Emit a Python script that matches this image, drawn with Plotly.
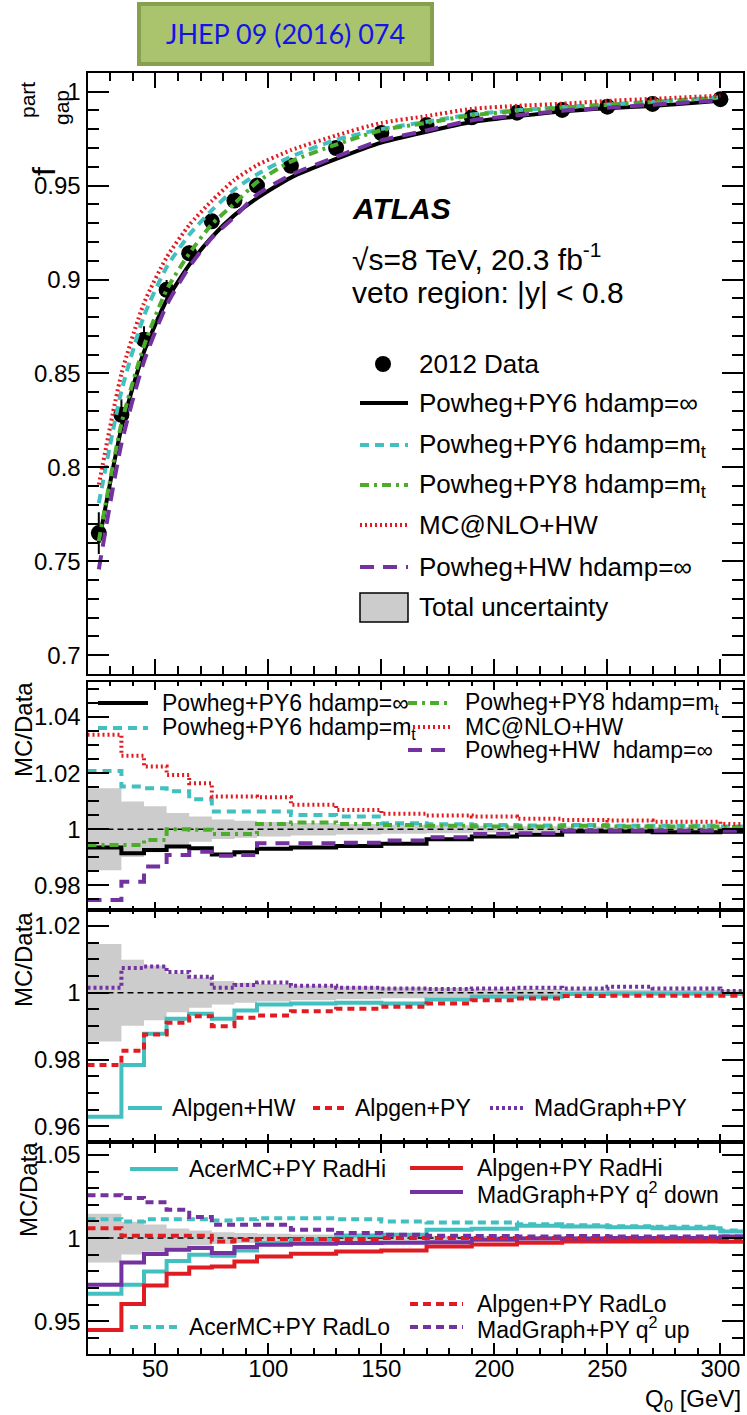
import plotly.graph_objects as go

W, H = 747, 1415
FONT = "Liberation Sans, Arial, Helvetica, sans-serif"

# ---------------- data ----------------
q0 = [25, 35, 45, 55, 65, 75, 85, 95, 110, 130, 150, 170, 190, 210, 230, 250, 270, 300]
fgap_data = [0.765, 0.828, 0.868, 0.8945, 0.914, 0.931, 0.942, 0.950, 0.9605, 0.970,
             0.978, 0.9822, 0.9864, 0.9888, 0.9903, 0.992, 0.9935, 0.996]
unc_total = [0.0146, 0.0099, 0.0082, 0.0058, 0.0045, 0.0035, 0.0030, 0.0026, 0.0022,
             0.0019, 0.0016, 0.0014, 0.0012, 0.0011, 0.0010, 0.0009, 0.0008, 0.0008]

# MC/Data, NLO generators
r_py6_inf = [0.9935, 0.9914, 0.9926, 0.9938, 0.9932, 0.9910, 0.9918, 0.9930, 0.9935,
             0.9940, 0.9948, 0.9964, 0.9974, 0.9980, 0.9992, 0.9992, 0.9989, 0.9991]
r_py6_mt = [1.0208, 1.0152, 1.0146, 1.0135, 1.0107, 1.0063, 1.0063, 1.0063, 1.0051,
            1.0045, 1.0021, 1.0018, 1.0015, 1.0013, 1.0015, 1.0012, 1.0012, 1.0010]
r_py8_mt = [0.9944, 0.9944, 0.9962, 1.0000, 0.9998, 0.9983, 0.9983, 1.0019, 1.0024,
            1.0019, 1.0015, 1.0012, 1.0010, 1.0010, 1.0012, 1.0010, 1.0010, 1.0008]
r_mcnlo_hw = [1.0337, 1.0262, 1.0224, 1.0193, 1.0164, 1.0117, 1.0117, 1.0114, 1.0087,
              1.0069, 1.0055, 1.0049, 1.0045, 1.0037, 1.0033, 1.0031, 1.0027, 1.0019]
r_pow_hw = [0.9748, 0.9813, 0.9867, 0.9908, 0.9920, 0.9905, 0.9908, 0.9950, 0.9950,
            0.9952, 0.9960, 0.9971, 0.9983, 0.9986, 0.9995, 0.9995, 0.9995, 0.9995]

# MC/Data, LO multi-leg generators
r_alp_hw = [0.9629, 0.9784, 0.9877, 0.9922, 0.9937, 0.9922, 0.9947, 0.9965, 0.9968,
            0.9970, 0.9968, 0.9980, 0.9988, 0.9988, 0.9996, 0.9998, 0.9998, 0.9996]
r_alp_py = [0.9784, 0.9826, 0.9875, 0.9910, 0.9930, 0.9900, 0.9925, 0.9932, 0.9945,
            0.9952, 0.9958, 0.9968, 0.9978, 0.9983, 0.9990, 0.9991, 0.9991, 0.9991]
r_mg_py = [1.0015, 1.0074, 1.0079, 1.0062, 1.0048, 1.0015, 1.0023, 1.0031, 1.0021,
           1.0015, 1.0013, 1.0011, 1.0013, 1.0015, 1.0013, 1.0018, 1.0013, 1.0005]

# MC/Data, radiation variations
r_acer_radhi = [0.9665, 0.9719, 0.9799, 0.9863, 0.9900, 0.9894, 0.9926, 0.9970, 0.9990,
                1.0015, 1.0020, 1.0050, 1.0056, 1.0074, 1.0070, 1.0066, 1.0060, 1.0040]
r_alp_radhi = [0.9448, 0.9604, 0.9715, 0.9785, 0.9823, 0.9829, 0.9859, 0.9890, 0.9906,
               0.9920, 0.9925, 0.9950, 0.9962, 0.9972, 0.9980, 0.9980, 0.9980, 0.9978]
r_mg_q2down = [0.9719, 0.9853, 0.9904, 0.9930, 0.9940, 0.9910, 0.9946, 0.9960, 0.9966,
               0.9970, 0.9972, 0.9975, 0.9990, 0.9998, 0.9998, 1.0000, 1.0000, 1.0010]
r_acer_radlo = [1.0114, 1.0100, 1.0114, 1.0114, 1.0114, 1.0106, 1.0114, 1.0120, 1.0120,
                1.0114, 1.0100, 1.0094, 1.0094, 1.0084, 1.0078, 1.0072, 1.0068, 1.0045]
r_alp_radlo = [1.0060, 1.0014, 1.0014, 1.0014, 1.0014, 0.9980, 0.9990, 0.9994, 0.9994,
               0.9995, 1.0000, 1.0000, 1.0000, 1.0000, 1.0000, 1.0000, 1.0000, 1.0000]
r_mg_q2up = [1.0257, 1.0241, 1.0215, 1.0171, 1.0127, 1.0080, 1.0080, 1.0080, 1.0050,
             1.0030, 1.0020, 1.0014, 1.0012, 1.0010, 1.0012, 1.0010, 1.0010, 1.0010]

x_ticks = [50, 100, 150, 200, 250, 300]
X_MIN, X_MAX = 20, 310

# ---------------- styles ----------------
BLACK = "#000000"
CYAN = "#42c0bf"
GREEN = "#4cac2c"
RED = "#e11b22"
PURPLE = "#7432a0"
GREY = "#cccccc"

D_CYAN = "9px,6px"
D_GREEN = "9px,5px,3px,5px"
D_RED = "2px,3px"
D_PURPLE = "14px,9px"
D_SHORT = "8px,5px"
D_DOT = "3px,3px"
LW = 4


def fx(p):
    return p / W


def fy(p):
    return 1 - p / H


FRAME_L, FRAME_R = 87.5, 743
PANELS = [(72.7, 674), (682, 910), (910, 1142), (1142, 1354)]

fig = go.Figure()


def steps(vals):
    xs = [X_MIN] + q0[1:] + [X_MAX]
    ys = list(vals) + [vals[-1]]
    return xs, ys


def add_step(vals, color, dash, ax, width=LW):
    xs, ys = steps(vals)
    fig.add_trace(go.Scatter(x=xs, y=ys, mode="lines", line_shape="hv",
                             line=dict(color=color, dash=dash, width=width),
                             xaxis="x" + ax, yaxis="y" + ax, showlegend=False,
                             hoverinfo="skip"))


def add_band(ax):
    up = [1 + u for u in unc_total]
    dn = [1 - u for u in unc_total]
    xs, yu = steps(up)
    _, yd = steps(dn)
    fig.add_trace(go.Scatter(x=xs, y=yd, mode="lines", line_shape="hv",
                             line=dict(width=0, color=GREY), xaxis="x" + ax, yaxis="y" + ax,
                             showlegend=False, hoverinfo="skip"))
    fig.add_trace(go.Scatter(x=xs, y=yu, mode="lines", line_shape="hv",
                             line=dict(width=0, color=GREY), fill="tonexty", fillcolor=GREY,
                             xaxis="x" + ax, yaxis="y" + ax, showlegend=False, hoverinfo="skip"))
    fig.add_trace(go.Scatter(x=[X_MIN, X_MAX], y=[1, 1], mode="lines",
                             line=dict(color=BLACK, dash="6px,4px", width=1.5),
                             xaxis="x" + ax, yaxis="y" + ax, showlegend=False, hoverinfo="skip"))


# ---------------- top panel ----------------
fig.add_trace(go.Scatter(
    x=q0, y=fgap_data, mode="markers",
    marker=dict(color=BLACK, size=16),
    error_y=dict(type="data", array=[d * u for d, u in zip(fgap_data, unc_total)],
                 color=BLACK, thickness=2, width=0),
    xaxis="x", yaxis="y", showlegend=False, hoverinfo="skip"))

for ratio, color, dash in [(r_py6_inf, BLACK, "solid"), (r_py6_mt, CYAN, D_CYAN),
                           (r_py8_mt, GREEN, D_GREEN), (r_mcnlo_hw, RED, D_RED),
                           (r_pow_hw, PURPLE, D_PURPLE)]:
    fig.add_trace(go.Scatter(
        x=q0, y=[d * r for d, r in zip(fgap_data, ratio)], mode="lines",
        line=dict(color=color, dash=dash, width=LW, shape="spline", smoothing=0.6),
        xaxis="x", yaxis="y", showlegend=False, hoverinfo="skip"))

# ---------------- ratio panel: NLO ----------------
add_band("2")
add_step(r_py6_inf, BLACK, "solid", "2")
add_step(r_py6_mt, CYAN, D_CYAN, "2")
add_step(r_py8_mt, GREEN, D_GREEN, "2")
add_step(r_mcnlo_hw, RED, D_RED, "2")
add_step(r_pow_hw, PURPLE, D_PURPLE, "2")

# ---------------- ratio panel: LO ----------------
add_band("3")
add_step(r_alp_hw, CYAN, "solid", "3")
add_step(r_alp_py, RED, "7px,5px", "3")
add_step(r_mg_py, PURPLE, D_DOT, "3")

# ---------------- ratio panel: radiation ----------------
add_band("4")
add_step(r_acer_radhi, CYAN, "solid", "4")
add_step(r_alp_radhi, RED, "solid", "4")
add_step(r_mg_q2down, PURPLE, "solid", "4")
add_step(r_acer_radlo, CYAN, D_SHORT, "4")
add_step(r_alp_radlo, RED, D_SHORT, "4")
add_step(r_mg_q2up, PURPLE, D_SHORT, "4")

# ---------------- axes ----------------
TICKFONT = dict(family=FONT, size=24, color=BLACK)
y_ranges = [(0.690, 1.0101), (0.9712, 1.0525), (0.9553, 1.0248), (0.9303, 1.0578)]
y_dticks = [(0.05, 0.01), (0.02, 0.005), (0.02, 0.005), (0.05, 0.01)]
x_ticklens = [(15, 8), (8, 4), (8, 4), (11, 6)]

layout_axes = {}
for i, ((top, bot), yr, (dmaj, dmin), (xl, xlm)) in enumerate(
        zip(PANELS, y_ranges, y_dticks, x_ticklens)):
    sfx = "" if i == 0 else str(i + 1)
    layout_axes["xaxis" + sfx] = dict(
        domain=[fx(FRAME_L), fx(FRAME_R)], range=[X_MIN, X_MAX], anchor="y" + sfx,
        tickmode="array", tickvals=x_ticks, ticks="inside", ticklen=xl, tickwidth=2,
        tickcolor=BLACK,
        minor=dict(ticks="inside", ticklen=xlm, tickwidth=2, tickcolor=BLACK, dtick=10, tick0=0),
        showline=True, linewidth=2, linecolor=BLACK, mirror="allticks",
        showgrid=False, zeroline=False, showticklabels=(i == 3), tickfont=TICKFONT,
        ticklabelstandoff=-8)
    layout_axes["yaxis" + sfx] = dict(
        domain=[fy(bot), fy(top)], range=list(yr), anchor="x" + sfx,
        tick0=1, dtick=dmaj, ticks="inside", ticklen=21, tickwidth=2, tickcolor=BLACK,
        minor=dict(ticks="inside", ticklen=11, tickwidth=2, tickcolor=BLACK, dtick=dmin, tick0=1),
        showline=True, linewidth=2, linecolor=BLACK, mirror="allticks",
        showgrid=False, zeroline=False, tickfont=TICKFONT)

# ---------------- annotations and legend samples ----------------
ann = []
shapes = []


def text(x, y, s, size, xanchor="left", yanchor="middle", angle=0, color=BLACK,
         family=FONT):
    ann.append(dict(x=fx(x), y=fy(y), xref="paper", yref="paper", text=s, showarrow=False,
                    xanchor=xanchor, yanchor=yanchor, textangle=angle,
                    font=dict(family=family, size=size, color=color)))


def sample(x0, x1, y, color, dash, width=LW):
    shapes.append(dict(type="line", xref="paper", yref="paper", x0=fx(x0), x1=fx(x1),
                       y0=fy(y), y1=fy(y), line=dict(color=color, dash=dash, width=width)))


# journal reference box
shapes.append(dict(type="rect", xref="paper", yref="paper", x0=fx(139), x1=fx(432),
                   y0=fy(64), y1=fy(4), fillcolor="#a9c46c",
                   line=dict(color="#87a04e", width=4)))
text(285.5, 34, "JHEP 09 (2016) 074", 27, xanchor="center", color="#1414e6",
     family="Lato, Open Sans, sans-serif")

# axis titles (f with stacked sub/superscript, rotated)
text(44, 172, "f", 32, xanchor="center", yanchor="middle", angle=-90)
text(62, 108, "gap", 21, xanchor="center", yanchor="middle", angle=-90)
text(27, 100, "part", 21, xanchor="center", yanchor="middle", angle=-90)
text(23, 730, "MC/Data", 24, xanchor="center", angle=-90)
text(23, 960, "MC/Data", 24, xanchor="center", angle=-90)
text(28, 1190, "MC/Data", 24, xanchor="center", angle=-90)
text(743, 1400, "Q<sub>0</sub> [GeV]", 24, xanchor="right")

# experiment labels
text(350, 209, "<b><i>ATLAS</i></b>", 30)
text(350, 257, "√s=8 TeV, 20.3 fb<sup>-1</sup>", 30)
text(350, 292, "veto region: |y| &lt; 0.8", 30)

# top panel legend
shapes.append(dict(type="circle", xref="paper", yref="paper", x0=fx(375), x1=fx(391),
                   y0=fy(372), y1=fy(356), fillcolor=BLACK, line=dict(width=0)))
text(417, 364, "2012 Data", 26)
leg_top = [(403, BLACK, "solid", "Powheg+PY6 hdamp=∞"),
           (445, CYAN, D_CYAN, "Powheg+PY6 hdamp=m<sub>t</sub>"),
           (485, GREEN, D_GREEN, "Powheg+PY8 hdamp=m<sub>t</sub>"),
           (525, RED, D_RED, "MC@NLO+HW"),
           (567, PURPLE, D_PURPLE, "Powheg+HW hdamp=∞")]
for y, c, d, s in leg_top:
    sample(360, 408, y, c, d)
    text(417, y, s, 26)
shapes.append(dict(type="rect", xref="paper", yref="paper", x0=fx(360), x1=fx(408),
                   y0=fy(622), y1=fy(593), fillcolor=GREY, line=dict(color=BLACK, width=1.5)))
text(417, 607, "Total uncertainty", 26)

# NLO ratio legend
sample(98, 148, 703, BLACK, "solid")
text(160, 703, "Powheg+PY6 hdamp=∞", 23)
sample(98, 148, 728, CYAN, D_CYAN)
text(160, 728, "Powheg+PY6 hdamp=m<sub>t</sub>", 23)
sample(408, 452, 703, GREEN, D_GREEN)
text(463, 703, "Powheg+PY8 hdamp=m<sub>t</sub>", 23)
sample(408, 452, 727, RED, D_RED)
text(463, 727, "MC@NLO+HW", 23)
sample(408, 452, 750, PURPLE, D_PURPLE)
text(463, 750, "Powheg+HW  hdamp=∞", 23)

# LO ratio legend
sample(128, 162, 1108, CYAN, "solid")
text(170, 1108, "Alpgen+HW", 23)
sample(313, 345, 1108, RED, "7px,5px")
text(353, 1108, "Alpgen+PY", 23)
sample(490, 523, 1108, PURPLE, D_DOT)
text(532, 1108, "MadGraph+PY", 23)

# radiation ratio legend
sample(130, 178, 1169, CYAN, "solid")
text(187, 1169, "AcerMC+PY RadHi", 23)
sample(410, 463, 1168, RED, "solid")
text(475, 1168, "Alpgen+PY RadHi", 23)
sample(410, 463, 1192, PURPLE, "solid")
text(475, 1193, "MadGraph+PY q<sup>2</sup> down", 23)
sample(130, 178, 1327, CYAN, D_SHORT)
text(187, 1327, "AcerMC+PY RadLo", 23)
sample(410, 463, 1304, RED, D_SHORT)
text(475, 1304, "Alpgen+PY RadLo", 23)
sample(410, 463, 1327, PURPLE, D_SHORT)
text(475, 1328, "MadGraph+PY q<sup>2</sup> up", 23)

fig.update_layout(
    width=W, height=H, margin=dict(l=0, r=0, t=0, b=0),
    paper_bgcolor="white", plot_bgcolor="white", showlegend=False,
    annotations=ann, shapes=shapes, font=dict(family=FONT, color=BLACK),
    **layout_axes)

fig.write_html("out.html")
